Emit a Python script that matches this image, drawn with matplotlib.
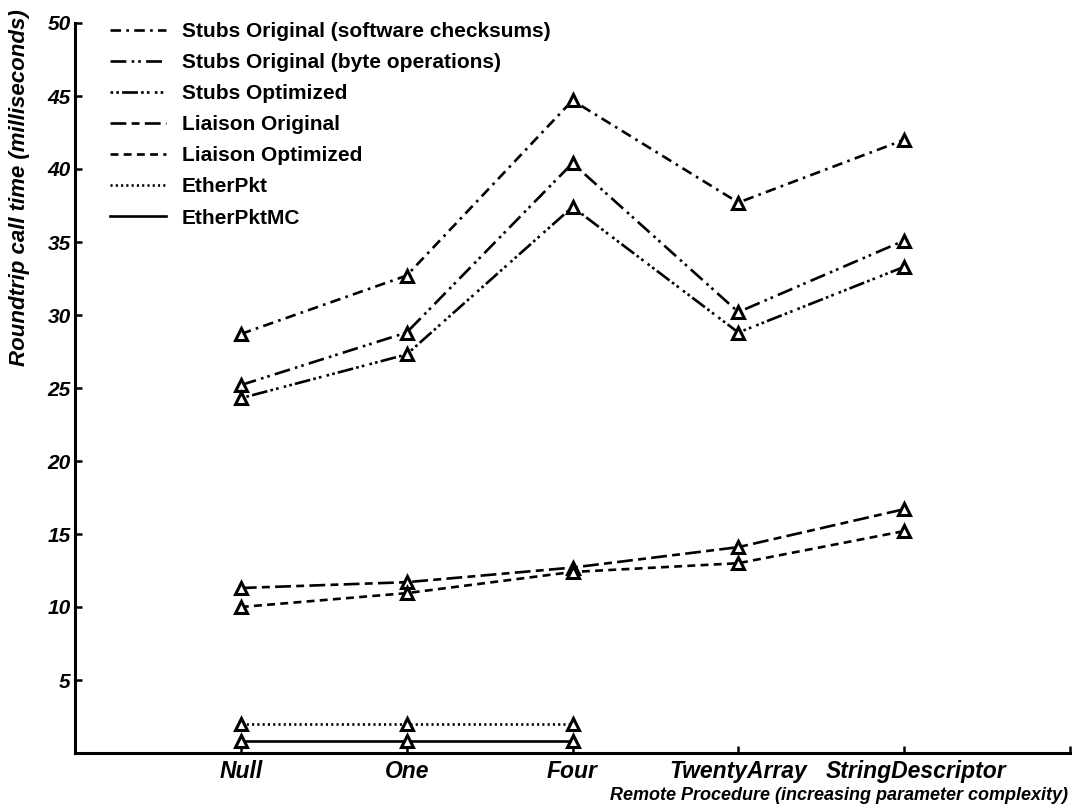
import matplotlib
matplotlib.use("Agg")
import matplotlib.pyplot as plt
from matplotlib.lines import Line2D
from matplotlib.transforms import ScaledTranslation

plt.rcParams['font.family'] = ['Liberation Sans', 'DejaVu Sans']

procedures = ['Null', 'One', 'Four', 'TwentyArray', 'StringDescriptor']

series_names = [
    'Stubs Original (software checksums)',
    'Stubs Original (byte operations)',
    'Stubs Optimized',
    'Liaison Original',
    'Liaison Optimized',
    'EtherPkt',
    'EtherPktMC',
]

stubs_orig_sw = [28.7, 32.7, 44.7, 37.7, 42.0]
stubs_orig_byte = [25.2, 28.8, 40.4, 30.2, 35.1]
stubs_opt = [24.3, 27.3, 37.4, 28.8, 33.3]
liaison_orig = [11.3, 11.7, 12.7, 14.1, 16.7]
liaison_opt = [10.0, 10.95, 12.4, 13.0, 15.2]
etherpkt = [2.0, 2.0, 2.0]
etherpkt_mc = [0.8, 0.8, 0.8]

series_values = [stubs_orig_sw, stubs_orig_byte, stubs_opt,
                 liaison_orig, liaison_opt, etherpkt, etherpkt_mc]

# dash patterns, in units of line width
dashes = [
    (0, (4, 2, 1, 2)),
    (0, (6, 2, 1, 1.5, 1, 2)),
    (0, (1, 1.2, 1, 1.2, 6, 1.2, 1, 1.2, 1, 2)),
    (0, (6, 2, 3, 2)),
    (0, (3, 2)),
    (0, (0.8, 1.2)),
    '-',
]

fig = plt.figure(figsize=(10.75, 8.08), dpi=100)
ax = fig.add_axes([75 / 1075, 1 - 753 / 808, 995 / 1075, 730 / 808])

lw = 1.9
for vals, ls in zip(series_values, dashes):
    xs = list(range(1, len(vals) + 1))
    ax.plot(xs, vals, color='black', lw=lw, linestyle=ls,
            marker='^', markersize=8.5, markerfacecolor='white',
            markeredgecolor='black', markeredgewidth=2.2, zorder=3)

ax.set_xlim(0, 6)
ax.set_ylim(0, 50)

for side in ['top', 'right']:
    ax.spines[side].set_visible(False)
for side in ['left', 'bottom']:
    ax.spines[side].set_linewidth(2.2)

ax.set_yticks(range(5, 51, 5))
ax.set_yticklabels([str(v) for v in range(5, 51, 5)],
                   fontsize=15, fontweight='bold', fontstyle='italic')
ax.set_xticks(range(1, 6))
ax.set_xticklabels(procedures, fontsize=16.5, fontweight='bold',
                   fontstyle='italic')
ax.set_xticks([6], minor=True)
ax.tick_params(axis='both', which='both', direction='in', length=5,
               width=1.8, pad=3)
ax.tick_params(axis='x', pad=5)

# the long last name sits a little right of its tick
last = ax.get_xticklabels()[-1]
last.set_transform(last.get_transform() +
                   ScaledTranslation(12 / 100, 0, fig.dpi_scale_trans))

fig.text(20 / 1075, 1 - 188 / 808, 'Roundtrip call time (milliseconds)',
         rotation=90, ha='center', va='center', fontsize=16,
         fontweight='bold', fontstyle='italic')
fig.text(1068 / 1075, 1 - 795 / 808,
         'Remote Procedure (increasing parameter complexity)',
         ha='right', va='center', fontsize=13, fontweight='bold',
         fontstyle='italic')

handles = [Line2D([0], [0], color='black', lw=lw, linestyle=ls)
           for ls in dashes]
ax.legend(handles, series_names, loc='upper left',
          bbox_to_anchor=(110 / 1075, 1 - 22 / 808),
          bbox_transform=fig.transFigure, frameon=False, borderpad=0,
          borderaxespad=0, handlelength=2.7, handletextpad=0.75,
          labelspacing=0.58, prop={'size': 15, 'weight': 'bold'})

fig.savefig('out.png', dpi=100)
